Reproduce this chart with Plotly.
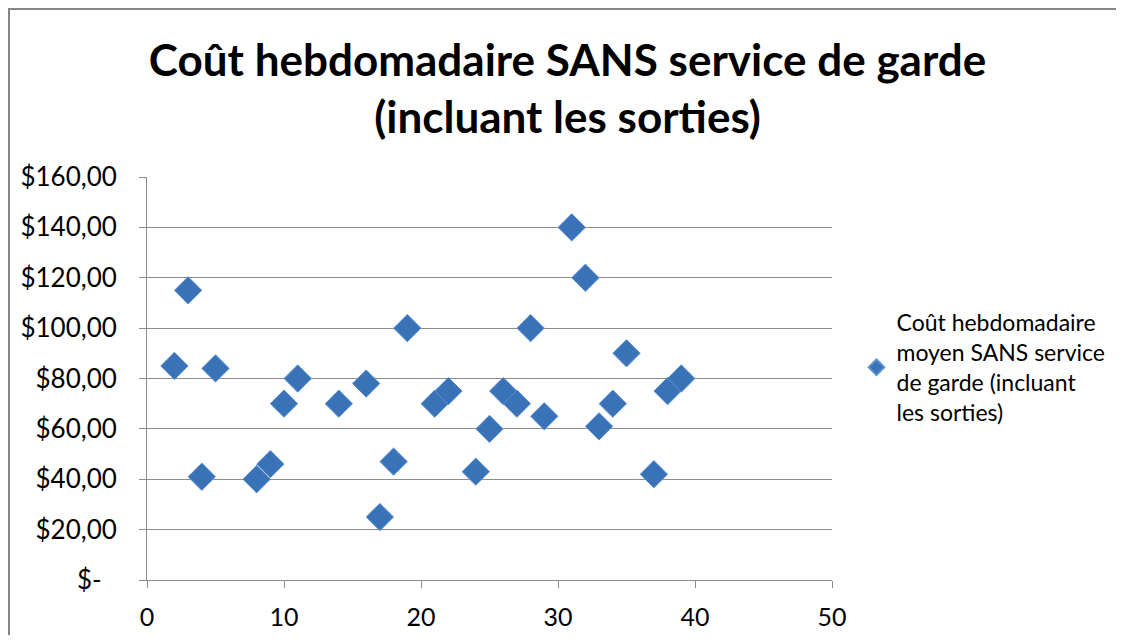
import plotly.graph_objects as go

# weekly cost (without day care) per respondent
respondent = [2, 3, 4, 5, 8, 9, 10, 11, 14, 16, 17, 18, 19, 21, 22, 24, 25,
              26, 27, 28, 29, 31, 32, 33, 34, 35, 37, 38, 39]
cost = [85, 115, 41, 84, 40, 46, 70, 80, 70, 78, 25, 47, 100, 70, 75, 43, 60,
        75, 70, 100, 65, 140, 120, 61, 70, 90, 42, 75, 80]

y_ticks = [0, 20, 40, 60, 80, 100, 120, 140, 160]
y_labels = ['$-\u2007', '$20,00', '$40,00', '$60,00', '$80,00',
            '$100,00', '$120,00', '$140,00', '$160,00']

series_name = 'Coût hebdomadaire<br>moyen SANS service<br>de garde (incluant<br>les sorties)'
title_text = 'Coût hebdomadaire SANS service de garde<br>(incluant les sorties)'

font_main = 'Lato, Open Sans, sans-serif'
grid_col = '#8c8c8c'

fig = go.Figure()
fig.add_trace(go.Scatter(x=respondent, y=cost,
                         mode='markers',
                         name=series_name,
                         marker=dict(symbol='diamond', size=21,
                                     color='#3a72b8',
                                     line=dict(color='#5a8fd0', width=1))))

# page body adds an 8px offset, so the figure is sized to fit inside it
W, H = 1108, 627
L, R, T, B = 139, 284, 169, 55
pw, ph = W - L - R, H - T - B

fig.update_layout(
    width=W, height=H,
    margin=dict(l=L, r=R, t=T, b=B),
    paper_bgcolor='white', plot_bgcolor='white',
    font=dict(family=font_main, size=23, color='#000000'),
    title=dict(text=title_text, x=0.505, xanchor='center', xref='container',
               y=1 - 68 / H, yanchor='middle',
               font=dict(family=font_main, size=44, color='#000000', weight='bold')),
    showlegend=True,
    legend=dict(x=848.5 / W, y=1 - 293 / H, xref='container', yref='container',
                xanchor='left', yanchor='top',
                font=dict(size=23), itemsizing='constant',
                bgcolor='rgba(0,0,0,0)', tracegroupgap=0),
    xaxis=dict(range=[0, 50], tickvals=[0, 10, 20, 30, 40, 50],
               showgrid=False, zeroline=False, automargin=False,
               showline=True, linecolor=grid_col, linewidth=1,
               ticks='outside', ticklen=7, tickcolor=grid_col,
               ticklabelstandoff=8,
               tickfont=dict(size=25)),
    yaxis=dict(range=[0, 160], tickvals=y_ticks, ticktext=y_labels,
               showgrid=True, gridcolor=grid_col, gridwidth=1,
               zeroline=False, automargin=False,
               showline=True, linecolor=grid_col, linewidth=1,
               ticks='outside', ticklen=7, tickcolor=grid_col,
               ticklabelstandoff=17,
               tickfont=dict(size=26)),
)

# outer chart border (left and top edges visible)
fig.add_shape(type='rect', xref='paper', yref='paper',
              x0=(1 - L) / pw, x1=(W + 20 - L) / pw,
              y0=(H - B - (H + 20)) / ph, y1=(H - B - 1) / ph,
              line=dict(color='#868686', width=2), layer='below')

fig.write_html("out.html")
